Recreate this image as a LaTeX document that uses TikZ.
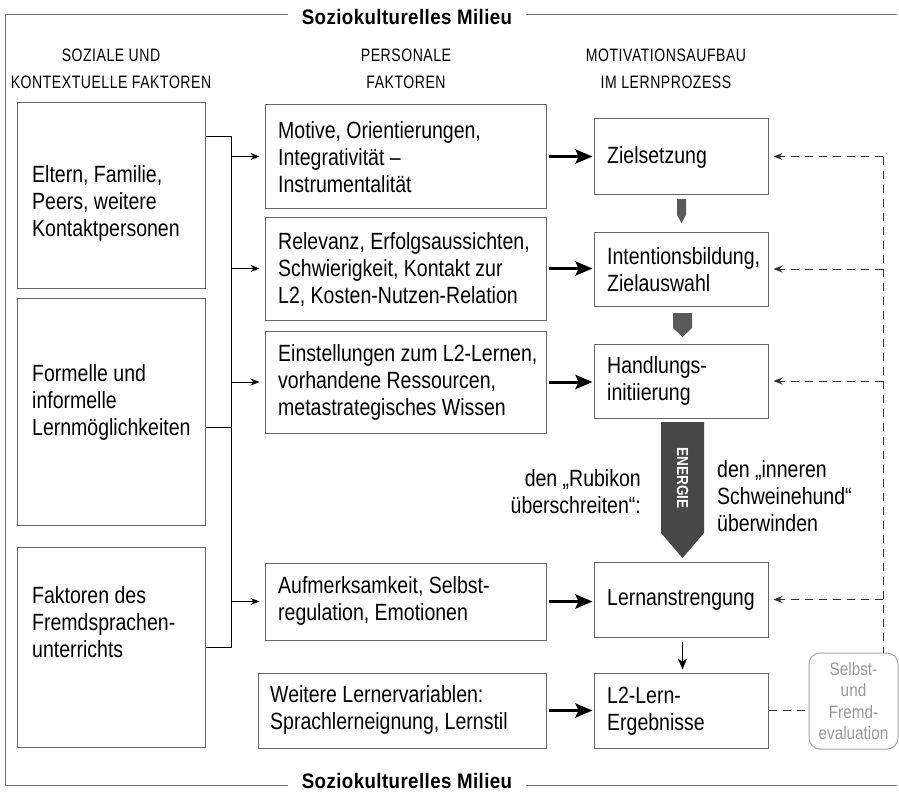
\documentclass[tikz,border=0pt]{standalone}
\usepackage{fontspec}
\setmainfont{Liberation Sans}[FakeStretch=0.83]
\newfontfamily\hdfont{Liberation Sans}[FakeStretch=0.78,LetterSpace=3]
\newfontfamily\ttlfont{Liberation Sans}[FakeStretch=0.89,LetterSpace=2]
\newfontfamily\evfont{Liberation Sans}[FakeStretch=0.85]
\usetikzlibrary{arrows.meta,calc}
\begin{document}
\begin{tikzpicture}[x=1pt,y=-1pt,
  bx/.style={draw=black!60, line width=1pt, inner sep=0pt},
  body/.style={font=\fontsize{23.5}{27}\selectfont, align=left, inner sep=0pt},
  hd/.style={font=\hdfont\fontsize{18}{27}\selectfont, align=center, inner sep=0pt},
  ttl/.style={font=\ttlfont\bfseries\fontsize{21}{24}\selectfont, inner xsep=14pt, inner ysep=0pt},
  frame/.style={draw=black!55, line width=1pt},
  conn/.style={draw=black, line width=1pt},
  thinarr/.style={draw=black, line width=1pt, -{Stealth[length=9pt,width=7pt]}, shorten >=5pt},
  thickarr/.style={draw=black, line width=3pt, -{Stealth[length=17pt,width=14pt,inset=3pt]}, shorten <=2pt, shorten >=1pt},
  dsh/.style={draw=black!80, line width=1pt, dash pattern=on 8pt off 6pt},
  dsharr/.style={dsh, -{Stealth[length=9pt,width=7pt]}, shorten >=5pt},
  shade/.style={fill=black!65}
]
\useasboundingbox (0,0) rectangle (899,797);

% frame
\node[ttl] (t1) at (407,17) {Soziokulturelles Milieu};
\node[ttl] (t2) at (407,781) {Soziokulturelles Milieu};
\coordinate (tl) at (5,15);
\coordinate (tr) at (897,15);
\coordinate (bl) at (5,785);
\coordinate (br) at (897,785);
\draw[frame] (t1.west |- tl) -- (tl) -- (bl) -- (bl -| t2.west);
\draw[frame] (t1.east |- tr) -- (tr);
\draw[frame] (t2.east |- br) -- (br);

% headers
\node[hd] (h1) at (111,69) {SOZIALE UND\\KONTEXTUELLE FAKTOREN};
\node[hd] (h2) at (406,69) {PERSONALE\\FAKTOREN};
\node[hd] (h3) at (666,69) {MOTIVATIONSAUFBAU\\IM LERNPROZESS};

% left boxes
\node[bx, minimum width=188, minimum height=185] (L1) at (111,195.5) {};
\node[bx, minimum width=188, minimum height=227] (L2) at (111,411.5) {};
\node[bx, minimum width=188, minimum height=200] (L3) at (111,647) {};
\node[body, anchor=west] (L1t) at (32,203) {Eltern, Familie,\\Peers, weitere\\Kontaktpersonen};
\node[body, anchor=west] (L2t) at (32,402) {Formelle und\\informelle\\Lernmöglichkeiten};
\node[body, anchor=west] (L3t) at (32,622) {Faktoren des\\Fremdsprachen-\\unterrichts};

% personal boxes
\node[bx, minimum width=281, minimum height=103] (P1) at (405.5,156.5) {};
\node[bx, minimum width=281, minimum height=103] (P2) at (405.5,268.5) {};
\node[bx, minimum width=281, minimum height=102] (P3) at (405.5,382) {};
\node[bx, minimum width=281, minimum height=77] (P4) at (405.5,601.5) {};
\node[bx, minimum width=288, minimum height=75] (P5) at (402,710.5) {};
\node[body, anchor=west] (P1t) at (278,157) {Motive, Orientierungen,\\Integrativität –\\Instrumentalität};
\node[body, anchor=west] (P2t) at (278,269) {Relevanz, Erfolgsaussichten,\\Schwierigkeit, Kontakt zur\\L2, Kosten-Nutzen-Relation};
\node[body, anchor=west] (P3t) at (278,382) {Einstellungen zum L2-Lernen,\\vorhandene Ressourcen,\\metastrategisches Wissen};
\node[body, anchor=west] (P4t) at (278,601) {Aufmerksamkeit, Selbst-\\regulation, Emotionen};
\node[body, anchor=west] (P5t) at (270,710) {Weitere Lernervariablen:\\Sprachlerneignung, Lernstil};

% motivation boxes
\node[bx, minimum width=174, minimum height=75] (M1) at (681,156.5) {};
\node[bx, minimum width=174, minimum height=74] (M2) at (681,269) {};
\node[bx, minimum width=174, minimum height=74] (M3) at (681,381) {};
\node[bx, minimum width=174, minimum height=75] (M4) at (681,599.5) {};
\node[bx, minimum width=174, minimum height=75] (M5) at (681,710.5) {};
\node[body, anchor=west] (M1t) at (607,157) {Zielsetzung};
\node[body, anchor=west] (M2t) at (607,270) {Intentionsbildung,\\Zielauswahl};
\node[body, anchor=west] (M3t) at (607,381) {Handlungs-\\initiierung};
\node[body, anchor=west] (M4t) at (607,600) {Lernanstrengung};
\node[body, anchor=west] (M5t) at (607,711) {L2-Lern-\\Ergebnisse};

% evaluation
\node[draw=black!35, rounded corners=11pt, line width=1pt, minimum width=89, minimum height=96,
      align=center, text=black!40, font=\evfont\fontsize{18}{21.5}\selectfont, inner sep=0pt]
      (E) at (853.5,701) {Selbst-\\und\\Fremd-\\evaluation};

% bus connectors
\coordinate (b1) at (231,137);
\coordinate (b2) at (231,427);
\coordinate (b3) at (231,647);
\draw[conn] (L1.east |- b1) -- (b1) -- (b3) -- (L3.east |- b3);
\draw[conn] (L2.east |- b2) -- (b2);
\draw[thinarr] (b1 |- P1.west) -- (P1.west);
\draw[thinarr] (b1 |- P2.west) -- (P2.west);
\draw[thinarr] (b1 |- P3.west) -- (P3.west);
\draw[thinarr] (b1 |- P4.west) -- (P4.west);

% thick arrows
\draw[thickarr] (P1.east) -- (P1.east -| M1.west);
\draw[thickarr] (P2.east) -- (P2.east -| M2.west);
\draw[thickarr] (P3.east) -- (P3.east -| M3.west);
\draw[thickarr] (P4.east) -- (P4.east -| M4.west);
\draw[thickarr] (P5.east) -- (P5.east -| M5.west);

% shaded arrows
\fill[shade] (677,199) -- (686,199) -- (686,215) -- (681.5,223) -- (677,215) -- cycle;
\fill[shade] (673,313) -- (692,313) -- (692,328) -- (682.5,337) -- (673,328) -- cycle;
\fill[black!72] (661,422) -- (704,422) -- (704,533) -- (682.5,558) -- (661,533) -- cycle;
\node[rotate=-90, text=white, font=\evfont\bfseries\fontsize{16}{16}\selectfont, inner sep=0pt] (en) at (682.5,478) {ENERGIE};

% Rubikon texts
\node[body, anchor=east, align=right] (rub) at (641,492) {den „Rubikon\\überschreiten“:};
\node[body, anchor=west] (sch) at (717,496) {den „inneren\\Schweinehund“\\überwinden};

% black arrow M4 -> M5
\draw[line width=1.6pt, -{Stealth[length=11pt,width=9pt]}, shorten <=4pt, shorten >=3pt] (M4.south -| en) -- (M5.north -| en);

% feedback dashed
\coordinate (fb) at (883,157);
\draw[dsh] (fb) -- (E.north -| fb);
\draw[dsharr] (fb |- M1.east) -- (M1.east);
\draw[dsharr] (fb |- M2.east) -- (M2.east);
\draw[dsharr] (fb |- M3.east) -- (M3.east);
\draw[dsharr] (fb |- M4.east) -- (M4.east);
\draw[dsh] (M5.east) -- (M5.east -| E.west);
\end{tikzpicture}
\end{document}
